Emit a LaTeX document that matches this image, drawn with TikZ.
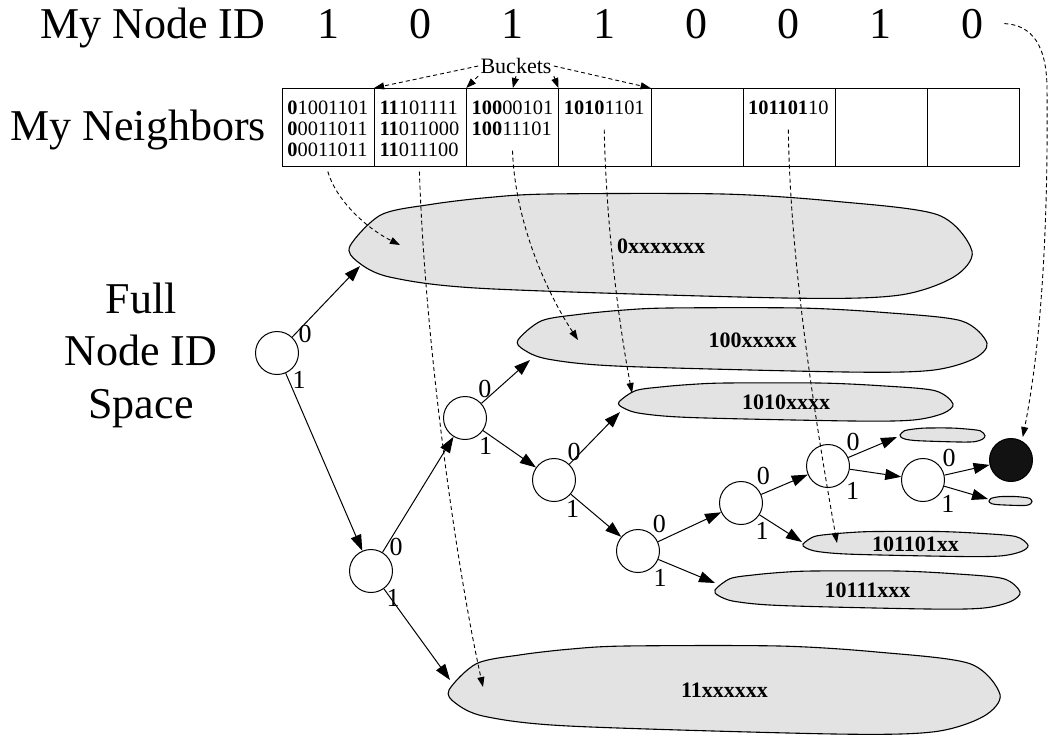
\documentclass[tikz,border=0pt]{standalone}
\usepackage{fontspec}
\setmainfont{Liberation Serif}
\usetikzlibrary{arrows.meta}

\tikzset{
  big/.style={font=\fontsize{22}{26.25}\selectfont, inner sep=0pt},
  idnode/.style={circle, draw, line width=0.5pt, minimum size=21.5pt, inner sep=0pt, label distance=0.5pt},
  mynode/.style={idnode, fill=black!93},
  bit/.style={font=\fontsize{13}{13}\selectfont, inner sep=0.5pt},
  edge/.style={-{Triangle[length=8pt,width=5.5pt]}, line width=0.5pt},
  pointer/.style={-{Triangle[length=5pt,width=3.5pt]}, dash pattern=on 2pt off 1.5pt, line width=0.45pt},
  space/.style={fill=black!11, draw, line width=0.55pt},
  spacelabel/.style={font=\fontsize{11}{11}\bfseries, inner sep=1pt},
  bucket/.style={draw, line width=0.5pt, minimum width=46.07pt, minimum height=39pt, anchor=north west, inner sep=0pt},
  entry/.style={font=\fontsize{10.2}{10.5}\selectfont, align=left, anchor=north west, inner sep=0pt}
}

% one region of the id space: left x, right x, middle y, half height, text, name
\newcommand{\idspace}[6]{%
  \begin{scope}[shift={(#1,#3)}, xscale={#2-#1}, yscale=#4]
    \path[space] plot[smooth cycle, tension=0.5] coordinates {(0,0) (0.05,-0.6) (0.13,-0.8) (0.22,-0.93) (0.32,-1) (0.6,-1) (0.78,-0.86) (0.945,-0.6) (1,0.1) (0.97,0.6) (0.88,0.95) (0.7,1) (0.22,0.82) (0.065,0.6) (0.012,0.3)};
  \end{scope}
  \node[spacelabel] (#6) at ({(#1+#2)/2},#3) {#5};
}

\begin{document}
\begin{tikzpicture}[x=0.5pt, y=-0.5pt]
\useasboundingbox (0,0) rectangle (1049,736);

% my id
\node[big, anchor=base west] (idlabel) at (40,38) {My Node ID};
\foreach \b [count=\i from 0] in {1,0,1,1,0,0,1,0}
  \node[big, anchor=base] (d\i) at ({328+92.14*\i},38) {\b};

% routing table
\node[big, anchor=base west] (nblabel) at (10,140) {My Neighbors};
\foreach \i in {0,...,7}
  \node[bucket] (c\i) at ({282+92.14*\i},88) {};
\node[entry] (e0) at ([shift={(5,13)}]c0.north west) {\textbf{0}1001101\\\textbf{0}0011011\\\textbf{0}0011011};
\node[entry] (e1) at ([shift={(5,13)}]c1.north west) {\textbf{11}101111\\\textbf{11}011000\\\textbf{11}011100};
\node[entry] (e2) at ([shift={(5,13)}]c2.north west) {\textbf{100}00101\\\textbf{100}11101};
\node[entry] (e3) at ([shift={(5,13)}]c3.north west) {\textbf{1010}1101};
\node[entry] (e5) at ([shift={(5,13)}]c5.north west) {\textbf{101101}10};

\node[font=\fontsize{11}{11}\selectfont, inner sep=1pt] (buckets) at (516,66) {Buckets};
\draw[pointer] (buckets.west) -- (c1.north west);
\draw[pointer] (buckets.south west) -- (c2.north west);
\draw[pointer] (buckets.south) -- (c2.north);
\draw[pointer] (buckets.south east) -- (c3.north west);
\draw[pointer] (buckets.east) -- (c4.north west);

% id space
\node[big, align=center] (fulllabel) at (141,355) {Full\\Node ID\\Space};
\idspace{350}{972}{246}{52}{0xxxxxxx}{s0}
\idspace{518}{987}{340}{32}{100xxxxx}{s100}
\idspace{619}{953}{402}{19}{1010xxxx}{s1010}
\idspace{900}{985}{435}{7}{}{s1011000}
\idspace{989}{1032}{501}{4.5}{}{s10110011}
\idspace{803}{1028}{544}{12.5}{101101xx}{s101101}
\idspace{715}{1020}{590}{19}{10111xxx}{s10111}
\idspace{449}{1000}{690}{44}{11xxxxxx}{s11}

\coordinate (s0in) at (360,266);
\coordinate (s100in) at (530,360);
\coordinate (s1010in) at (620,412);
\coordinate (s1011000in) at (897,437);
\coordinate (s10110011in) at (988,499);
\coordinate (s101101in) at (802,542);
\coordinate (s10111in) at (715,583);
\coordinate (s11in) at (450,680);

% tree
\node[idnode, label={[bit]23:0}, label={[bit]-50:1}] (r) at (277,353) {};
\node[idnode, label={[bit]39:0}, label={[bit]-50:1}] (n1) at (371,571) {};
\node[idnode, label={[bit]57:0}, label={[bit]-55:1}] (n10) at (465,418) {};
\node[idnode, label={[bit]56:0}, label={[bit]-61:1}] (n101) at (554,480) {};
\node[idnode, label={[bit]52:0}, label={[bit]-50:1}] (n1011) at (638,551) {};
\node[idnode, label={[bit]49:0}, label={[bit]-53:1}] (n10110) at (741,503) {};
\node[idnode, label={[bit]38:0}, label={[bit]-41:1}] (n101100) at (828,466) {};
\node[idnode, label={[bit]34:0}, label={[bit]-40:1}] (n1011001) at (923,480) {};
\node[mynode] (me) at (1011,460) {};

\foreach \a/\b in {r/s0in, r/n1, n1/n10, n1/s11in, n10/s100in, n10/n101,
    n101/s1010in, n101/n1011, n1011/n10110, n1011/s10111in,
    n10110/n101100, n10110/s101101in, n101100/s1011000in, n101100/n1011001,
    n1011001/me, n1011001/s10110011in}
  \draw[edge] (\a) -- (\b);

% where the contacts live
\coordinate (s0p) at (400,245);
\coordinate (s11p) at (483,687);
\coordinate (s100p) at (578,340);
\coordinate (s1010p) at (632,393);
\coordinate (s101101p) at (837,543);
\draw[pointer] ([yshift=-7pt]e0.south) .. controls (336,200) and (366,228) .. (s0p);
\draw[pointer] ([yshift=-7pt]e1.south) .. controls (425,340) and (455,560) .. (s11p);
\draw[pointer] ([yshift=-7pt]e2.south) .. controls (515,220) and (545,290) .. (s100p);
\draw[pointer] ([yshift=-7pt]e3.south) .. controls (606,220) and (618,320) .. (s1010p);
\draw[pointer] ([yshift=-7pt]e5.south) .. controls (790,260) and (815,420) .. (s101101p);
\draw[pointer, shorten >=2pt] ([xshift=10pt]d7.east) .. controls (1032,25) and (1047,45) .. (1047,90)
  .. controls (1048,200) and (1044,330) .. (me.60);
\end{tikzpicture}
\end{document}
